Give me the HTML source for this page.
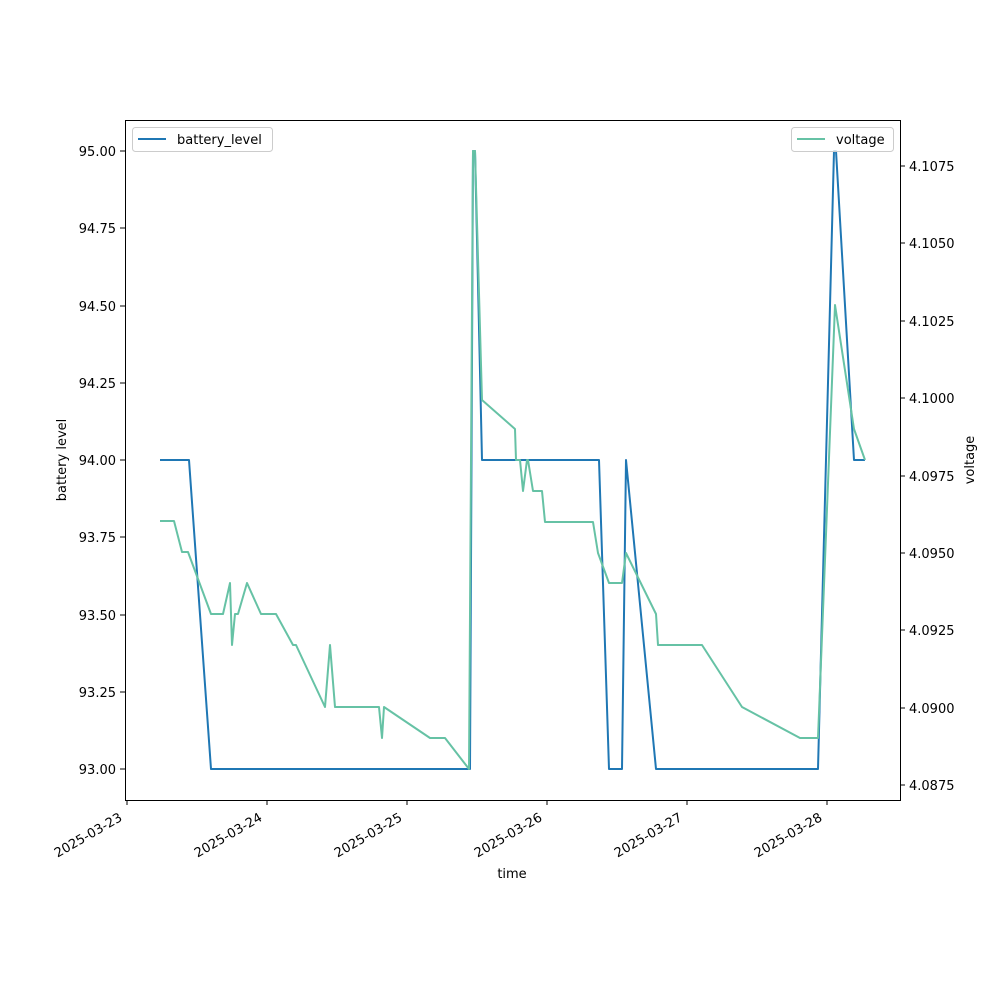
<!DOCTYPE html><html><head><meta charset="utf-8"><style>body{margin:0;background:#fff}svg text{font-family:"DejaVu Sans","Liberation Sans",sans-serif;font-size:13px;fill:#000}</style></head><body>
<svg width="1000" height="1000" xmlns="http://www.w3.org/2000/svg">
<rect width="1000" height="1000" fill="#fff"/>
<g fill="none" stroke-width="2" stroke-linejoin="round">
<polyline stroke="#1f77b4" points="160,460 189,460 211,769 470,769 473,151 475,151 482,460 599,460 609,769 622,769 626,460 656,769 818,769 834,151 836,151 854,460 865,460"/>
<polyline stroke="#66c2a5" points="160,521 174,521 182,552 188,552 211,614 223,614 230,583 232,645 235,614 238,614 247,583 261,614 276,614 293,645 296,645 325,707 330,645 335,707 379,707 382,738 384,707 430,738 445,738 469,769 473,151 475,151 482,400 515,429 516,460 520,460 523,491 527,460 528,460 533,491 542,491 545,522 593,522 598,553 609,583 622,583 626,553 656,614 658,645 702,645 742,707 800,738 818,738 835,305 854,429 865,460"/>
</g>
<rect x="125.5" y="120.5" width="775" height="680" fill="none" stroke="#000" stroke-width="1"/>
<g stroke="#000">
<line x1="125" x2="120" y1="151" y2="151"/><line x1="125" x2="120" y1="228" y2="228"/><line x1="125" x2="120" y1="306" y2="306"/><line x1="125" x2="120" y1="383" y2="383"/><line x1="125" x2="120" y1="460" y2="460"/><line x1="125" x2="120" y1="537" y2="537"/><line x1="125" x2="120" y1="615" y2="615"/><line x1="125" x2="120" y1="692" y2="692"/><line x1="125" x2="120" y1="769" y2="769"/>
<line x1="900" x2="905" y1="166" y2="166"/><line x1="900" x2="905" y1="243" y2="243"/><line x1="900" x2="905" y1="321" y2="321"/><line x1="900" x2="905" y1="398" y2="398"/><line x1="900" x2="905" y1="476" y2="476"/><line x1="900" x2="905" y1="553" y2="553"/><line x1="900" x2="905" y1="630" y2="630"/><line x1="900" x2="905" y1="708" y2="708"/><line x1="900" x2="905" y1="785" y2="785"/>
<line x1="127" x2="127" y1="800" y2="805"/><line x1="267" x2="267" y1="800" y2="805"/><line x1="407" x2="407" y1="800" y2="805"/><line x1="547" x2="547" y1="800" y2="805"/><line x1="687" x2="687" y1="800" y2="805"/><line x1="827" x2="827" y1="800" y2="805"/>
</g>
<g text-anchor="end">
<text x="116" y="156">95.00</text><text x="116" y="233">94.75</text><text x="116" y="311">94.50</text><text x="116" y="388">94.25</text><text x="116" y="465">94.00</text><text x="116" y="542">93.75</text><text x="116" y="620">93.50</text><text x="116" y="697">93.25</text><text x="116" y="774">93.00</text>
</g>
<g>
<text x="909" y="171">4.1075</text><text x="909" y="248">4.1050</text><text x="909" y="326">4.1025</text><text x="909" y="403">4.1000</text><text x="909" y="481">4.0975</text><text x="909" y="558">4.0950</text><text x="909" y="635">4.0925</text><text x="909" y="713">4.0900</text><text x="909" y="790">4.0875</text>
</g>
<g text-anchor="end">
<text transform="translate(123,820) rotate(-30)">2025-03-23</text><text transform="translate(263,820) rotate(-30)">2025-03-24</text><text transform="translate(403,820) rotate(-30)">2025-03-25</text><text transform="translate(543,820) rotate(-30)">2025-03-26</text><text transform="translate(683,820) rotate(-30)">2025-03-27</text><text transform="translate(823,820) rotate(-30)">2025-03-28</text>
</g>
<text x="512" y="878" text-anchor="middle">time</text>
<text transform="translate(66,460) rotate(-90)" text-anchor="middle">battery level</text>
<text transform="translate(974,460) rotate(-90)" text-anchor="middle">voltage</text>
<rect x="132.5" y="127.5" width="140" height="24" rx="3" fill="#fff" fill-opacity="0.8" stroke="#ccc"/>
<line x1="138" x2="166" y1="139" y2="139" stroke="#1f77b4" stroke-width="2"/>
<text x="177" y="144">battery_level</text>
<rect x="791.5" y="127.5" width="102" height="24" rx="3" fill="#fff" fill-opacity="0.8" stroke="#ccc"/>
<line x1="797" x2="825" y1="139" y2="139" stroke="#66c2a5" stroke-width="2"/>
<text x="836" y="144">voltage</text>
</svg></body></html>
